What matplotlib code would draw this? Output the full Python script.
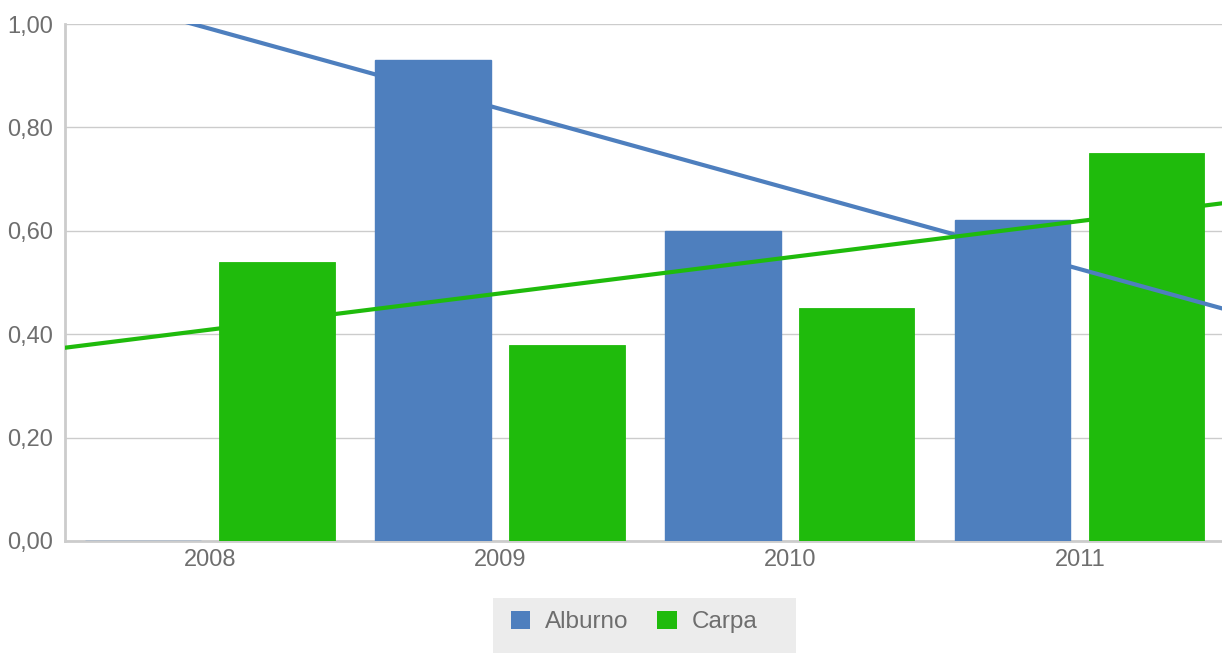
import numpy as np
import matplotlib.pyplot as plt
from matplotlib.patches import Rectangle, Patch

plt.rcParams['font.family'] = ['Liberation Sans', 'DejaVu Sans']

# --------------------------
# data
# --------------------------
years = ['2008', '2009', '2010', '2011']
alburno = [0.0, 0.93, 0.60, 0.62]
carpa = [0.54, 0.38, 0.45, 0.75]
series_names = ['Alburno', 'Carpa']

COLOR_A = '#4e7fbe'
COLOR_C = '#1fbb0c'
TXT = '#6e6e6e'
GRID = '#cccccc'

W, H = 1222, 653
fig = plt.figure(figsize=(W / 100, H / 100), dpi=100)
ax = fig.add_axes([65 / W, (H - 541) / H, 1157 / W, 517 / H])

x = np.arange(len(years))
bw = 0.397
off = 0.231
ax.bar(x - off, alburno, bw, color=COLOR_A, edgecolor=COLOR_A, linewidth=1.0, zorder=3)
ax.bar(x + off, carpa, bw, color=COLOR_C, edgecolor=COLOR_C, linewidth=0.6, zorder=3)

# trend lines (least squares, Alburno skips the empty 2008 value)
xl = np.array([-0.6, 3.6])
xa = (x - off)[1:]
ka, ba = np.polyfit(xa, alburno[1:], 1)
ax.plot(xl, ka * xl + ba, color=COLOR_A, linewidth=3, zorder=4, solid_capstyle='butt')
kc, bc = np.polyfit(x + off, carpa, 1)
ax.plot(xl, kc * xl + bc, color=COLOR_C, linewidth=3, zorder=4, solid_capstyle='butt')

ax.set_xlim(-0.5, 3.49)
ax.set_ylim(0, 1.0)
ax.set_yticks(np.arange(0, 1.01, 0.2))
ax.set_yticklabels([f'{v:.2f}'.replace('.', ',') for v in np.arange(0, 1.01, 0.2)])
ax.set_xticks(x)
ax.set_xticklabels(years)
ax.tick_params(length=0, labelsize=17, colors=TXT)
ax.tick_params(axis='x', pad=6)
ax.tick_params(axis='y', pad=8.5)
ax.grid(axis='y', color=GRID, linewidth=1.0, zorder=0)
ax.set_axisbelow(True)
for s in ['top', 'right']:
    ax.spines[s].set_visible(False)
for s in ['left', 'bottom']:
    ax.spines[s].set_color(GRID)
    ax.spines[s].set_linewidth(2)

# legend
fig.patches.append(Rectangle((493 / W, 0), 303 / W, 55 / H, transform=fig.transFigure,
                             facecolor='#ececec', edgecolor='none'))
handles = [Patch(facecolor=COLOR_A), Patch(facecolor=COLOR_C)]
fig.legend(handles, series_names, loc='center', bbox_to_anchor=(634 / W, (H - 622) / H),
           ncol=2, frameon=False, fontsize=17.5, labelcolor=TXT,
           handlelength=0.8, handleheight=0.8, handletextpad=0.6, columnspacing=1.2)

fig.savefig('out.png', dpi=100)
